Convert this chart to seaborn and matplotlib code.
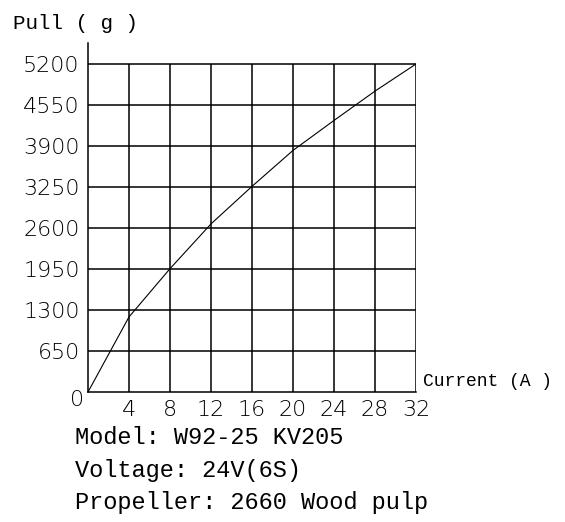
import matplotlib
matplotlib.use("Agg")
import matplotlib.pyplot as plt
import seaborn as sns
import pandas as pd

# data
current = [0, 4, 8, 12, 16, 20, 24, 28, 32]
pull = [0, 1190, 1955, 2665, 3260, 3830, 4305, 4770, 5200]

x_ticks = [4, 8, 12, 16, 20, 24, 28, 32]
y_ticks = [650, 1300, 1950, 2600, 3250, 3900, 4550, 5200]
info_lines = ["Model: W92-25 KV205", "Voltage: 24V(6S)", "Propeller: 2660 Wood pulp"]

sns.set_style("white")
plt.rcParams['font.family'] = ['DejaVu Sans']

df = pd.DataFrame({"current": current, "pull": pull})

fig = plt.figure(figsize=(5.65, 5.22), dpi=100)
ax = fig.add_axes([88/565, 130/522, 328/565, 349/522])

# grid drawn only up to 5200 / 32
ax.vlines(x_ticks, 0, 5200, color="black", lw=1.1)
ax.hlines(y_ticks, 0, 32, color="black", lw=1.1)

sns.lineplot(data=df, x="current", y="pull", ax=ax, color="black", lw=0.8)

ax.set_xlim(0, 32)
ax.set_ylim(0, 5200 * 349 / 328)
for s in ["top", "right"]:
    ax.spines[s].set_visible(False)
for s in ["left", "bottom"]:
    ax.spines[s].set_color("black")
    ax.spines[s].set_linewidth(1.1)

tick_font = dict(family="DejaVu Sans", weight=200, size=16, color="black")
ax.set_xticks(x_ticks)
ax.set_xticklabels([str(v) for v in x_ticks], **tick_font)
ax.set_yticks(y_ticks)
ax.set_yticklabels([str(v) for v in y_ticks], **tick_font)
ax.tick_params(length=0, pad=6)
ax.set_xlabel("")
ax.set_ylabel("")
ax.text(-0.4, -130, "0", ha="right", va="center", **tick_font)

mono = dict(family="Liberation Mono", color="black")
fig.text(13/565, 1 - 24/522, "Pull ( g )", ha="left", va="center", size=15, **mono)
fig.text(423/565, 1 - 381/522, "Current (A )", ha="left", va="center", size=13, **mono)
for i, line in enumerate(info_lines):
    fig.text(75/565, 1 - (438 + i * 32)/522, line, ha="left", va="center", size=17, **mono)

fig.savefig("out.png", dpi=100)
